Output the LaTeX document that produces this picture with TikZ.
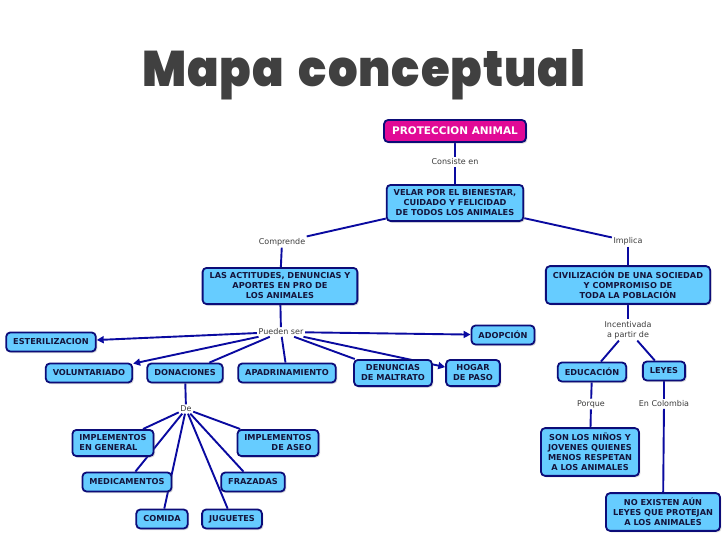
\documentclass[tikz,border=0pt]{standalone}
\usepackage{fontspec}
\usepackage{graphicx}
\setmainfont{DejaVu Sans}
\IfFontExistsTF{Poppins Black}{\newfontfamily\titlefont{Poppins Black}}{\newfontfamily\titlefont{Poppins}[UprightFont=*-Bold]}
\usetikzlibrary{arrows.meta,shadows,backgrounds}
\definecolor{boxfill}{RGB}{102,204,255}
\definecolor{boxdraw}{RGB}{12,12,120}
\definecolor{linkc}{RGB}{10,10,160}
\definecolor{magent}{RGB}{225,10,150}
\definecolor{titlegray}{RGB}{64,64,64}
\definecolor{phrase}{RGB}{60,60,60}
\definecolor{boxtext}{RGB}{20,20,60}
\tikzset{
  concept/.style={draw=boxdraw, fill=boxfill, line width=1.8pt, rounded corners=4pt,
    font=\fontsize{8.2}{10}\selectfont\bfseries, text=boxtext, align=center,
    inner xsep=7pt, inner ysep=5pt, minimum height=19pt,
    drop shadow={opacity=0.3, shadow xshift=1.5pt, shadow yshift=-1.5pt}},
  linkph/.style={font=\fontsize{8}{10}\selectfont, text=phrase, inner sep=1.5pt, align=center},
  conn/.style={draw=linkc, line width=1.9pt},
  arr/.style={conn, -{Triangle[length=7pt,width=7pt]}}
}
\begin{document}
\begin{tikzpicture}[x=1pt,y=-1pt]
\useasboundingbox (0,0) rectangle (728,546);
\node[anchor=base west, inner sep=0, text=titlegray] (title) at (142,86) {\resizebox{443pt}{37pt}{\titlefont M\kern0.02em a\kern0.02em p\kern0.02em a\hspace{0.32em}c\kern0.02em o\kern0.02em n\kern0.02em c\kern0.02em e\kern0.02em p\kern0.02em t\kern0.02em u\kern0.02em a\kern0.02em l}};

\node[concept, fill=magent, text=white, font=\fontsize{10.5}{12}\selectfont\bfseries, inner xsep=8pt, minimum height=22pt] (prot) at (455,131) {PROTECCION ANIMAL};
\node[linkph] (consiste) at (455,162) {Consiste en};
\node[concept] (velar) at (455,203) {VELAR POR EL BIENESTAR,\\CUIDADO Y FELICIDAD\\DE TODOS LOS ANIMALES};
\node[linkph] (comprende) at (282,242) {Comprende};
\node[linkph] (implica) at (628,241) {Implica};
\node[concept] (actitudes) at (280,286) {LAS ACTITUDES, DENUNCIAS Y\\APORTES EN PRO DE\\LOS ANIMALES};
\node[concept] (civil) at (628,285) {CIVILIZACIÓN DE UNA SOCIEDAD\\Y COMPROMISO DE\\TODA LA POBLACIÓN};
\node[linkph] (pueden) at (281,332) {Pueden ser};
\node[concept] (ester) at (51,342) {ESTERILIZACION};
\node[concept] (adop) at (503,335) {ADOPCIÓN};
\node[concept] (volunt) at (89,373) {VOLUNTARIADO};
\node[concept] (donac) at (185,373) {DONACIONES};
\node[concept] (apadr) at (287,373) {APADRINAMIENTO};
\node[concept] (denun) at (393,373) {DENUNCIAS\\DE MALTRATO};
\node[concept] (hogar) at (473,373) {HOGAR\\DE PASO};
\node[linkph] (incent) at (628,330) {Incentivada\\a partir de};
\node[concept] (educ) at (592,372) {EDUCACIÓN};
\node[concept] (leyes) at (664,371) {LEYES};
\node[linkph] (porque) at (591,404) {Porque};
\node[linkph] (encol) at (664,404) {En Colombia};
\node[concept] (son) at (590,452) {SON LOS NIÑOS Y\\JOVENES QUIENES\\MENOS RESPETAN\\A LOS ANIMALES};
\node[concept] (noex) at (663,512) {NO EXISTEN AÚN\\LEYES QUE PROTEJAN\\A LOS ANIMALES};
\node[linkph] (de) at (186,409) {De};
\node[concept, align=left] (impgen) at (113,443) {IMPLEMENTOS\\EN GENERAL};
\node[concept, align=right] (impaseo) at (278,443) {IMPLEMENTOS\\DE ASEO};
\node[concept] (medic) at (127,482) {MEDICAMENTOS};
\node[concept] (fraz) at (253,482) {FRAZADAS};
\node[concept] (comida) at (162,519) {COMIDA};
\node[concept] (jug) at (232,519) {JUGUETES};

\begin{scope}[on background layer]
\draw[conn] (prot) -- (consiste);
\draw[conn] (consiste) -- (velar);
\draw[conn] (velar) -- (comprende);
\draw[conn] (comprende) -- (actitudes);
\draw[conn] (velar) -- (implica);
\draw[conn] (implica) -- (civil);
\draw[conn] (actitudes) -- (pueden);
\draw[arr] (pueden) -- (ester);
\draw[arr] (pueden) -- (volunt);
\draw[conn] (pueden) -- (donac);
\draw[conn] (pueden) -- (apadr);
\draw[conn] (pueden) -- (denun);
\draw[arr] (pueden) -- (hogar);
\draw[arr] (pueden) -- (adop);
\draw[conn] (donac) -- (de);
\draw[conn] (de) -- (impgen);
\draw[conn] (de) -- (medic);
\draw[conn] (de) -- (comida);
\draw[conn] (de) -- (jug);
\draw[conn] (de) -- (fraz);
\draw[conn] (de) -- (impaseo);
\draw[conn] (civil) -- (incent);
\draw[conn] (incent) -- (educ);
\draw[conn] (incent) -- (leyes);
\draw[conn] (educ) -- (porque);
\draw[conn] (porque) -- (son);
\draw[conn] (leyes) -- (encol);
\draw[conn] (encol) -- (noex);
\end{scope}
\end{tikzpicture}
\end{document}
